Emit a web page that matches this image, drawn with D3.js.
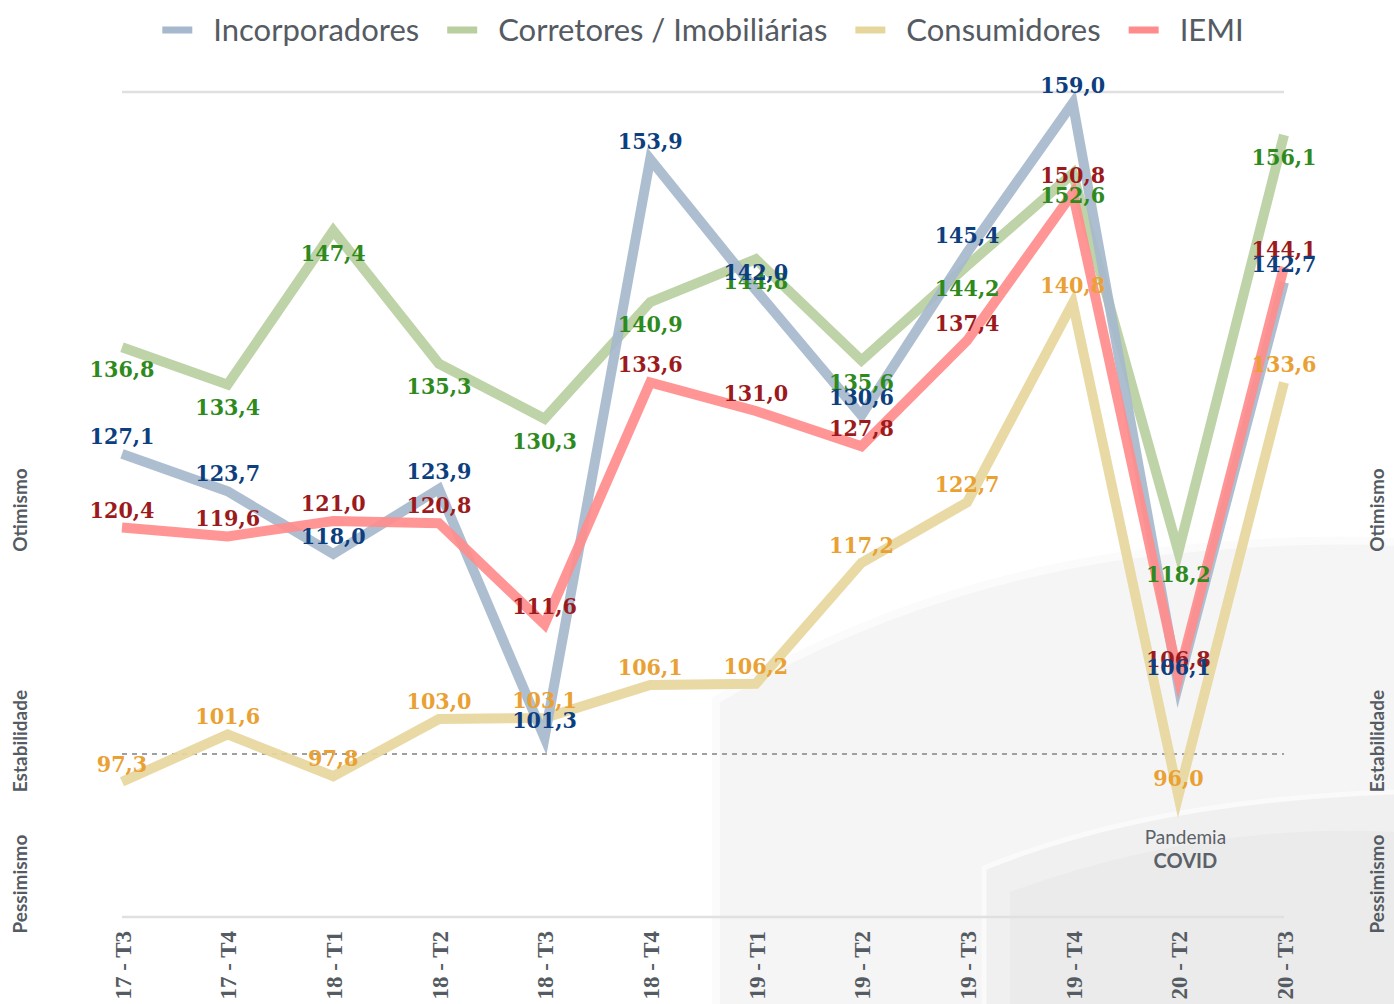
<!DOCTYPE html>
<html>
<head>
<meta charset="utf-8">
<script src="https://cdn.jsdelivr.net/npm/d3@7"></script>
<style>
  body { margin: 0; background: #fff; }
  svg { display: block; }
</style>
</head>
<body>
<script>
// quarters on the x axis
var categories = ["17 - T3", "17 - T4", "18 - T1", "18 - T2", "18 - T3", "18 - T4",
                  "19 - T1", "19 - T2", "19 - T3", "19 - T4", "20 - T2", "20 - T3"];

var incorporadores = [127.1, 123.7, 118.0, 123.9, 101.3, 153.9, 142.0, 130.6, 145.4, 159.0, 106.1, 142.7];
var corretores     = [136.8, 133.4, 147.4, 135.3, 130.3, 140.9, 144.8, 135.6, 144.2, 152.6, 118.2, 156.1];
var consumidores   = [97.3, 101.6, 97.8, 103.0, 103.1, 106.1, 106.2, 117.2, 122.7, 140.8, 96.0, 133.6];
var iemi           = [120.4, 119.6, 121.0, 120.8, 111.6, 133.6, 131.0, 127.8, 137.4, 150.8, 106.8, 144.1];

var seriesNames = ["Incorporadores", "Corretores / Imobiliárias", "Consumidores", "IEMI"];
var zoneLabels = ["Otimismo", "Estabilidade", "Pessimismo"];
var zoneValues = [122, 101, 88];   // middle of each zone on the index scale
var neutral = 100;

var width = 1394, height = 1004;

var series = [
    {name: seriesNames[0], values: incorporadores, line: "#a6b8cd", text: "#0d3f7f", pos: "above"},
    {name: seriesNames[1], values: corretores,     line: "#b9cf9f", text: "#2e8a1c", pos: "below"},
    {name: seriesNames[2], values: consumidores,   line: "#e7d69c", text: "#e9a133", pos: "above"},
    {name: seriesNames[3], values: iemi,           line: "#ff8c8c", text: "#9c1a1c", pos: "above"}
];

var svg = d3.select("body").append("svg")
    .attr("width", width)
    .attr("height", height);

// decorative background in the lower right
var bg = svg.append("g").attr("class", "bg");
bg.append("path")
    .attr("d", "M716,1004 L716,700 Q900,590 1120,556 Q1280,536 1394,542 L1394,1004 Z")
    .attr("fill", "#f5f5f5");
bg.append("path")
    .attr("d", "M716,1004 L716,700 Q900,590 1120,556 Q1280,536 1394,542")
    .attr("fill", "none").attr("stroke", "#fbfbfb").attr("stroke-width", 8);
bg.append("path")
    .attr("d", "M984,1004 L984,868 Q1150,800 1394,792 L1394,1004 Z")
    .attr("fill", "#f0f0f0");
bg.append("path")
    .attr("d", "M1010,1004 L1010,892 Q1200,822 1394,832 L1394,1004 Z")
    .attr("fill", "#ebebeb");
bg.append("path")
    .attr("d", "M984,1004 L984,868 Q1150,800 1394,792")
    .attr("fill", "none").attr("stroke", "#fafafa").attr("stroke-width", 5);

var x = d3.scalePoint()
    .domain(categories)
    .range([122, 1284]);

var y = d3.scaleLinear()
    .domain([85, 160])
    .range([917, 92]);

// grid lines
var grid = svg.append("g");
grid.selectAll("line.edge")
    .data(y.domain())
    .join("line")
        .attr("class", "edge")
        .attr("x1", x.range()[0])
        .attr("x2", x.range()[1])
        .attr("y1", d => y(d))
        .attr("y2", d => y(d))
        .attr("stroke", "#e0e0e0")
        .attr("stroke-width", 2.5);

grid.append("line")
    .attr("x1", x.range()[0])
    .attr("x2", x.range()[1])
    .attr("y1", y(neutral) + 2)
    .attr("y2", y(neutral) + 2)
    .attr("stroke", "#a0a0a0")
    .attr("stroke-width", 2)
    .attr("stroke-dasharray", "5,5");

// x axis
var xAxis = svg.append("g")
    .attr("transform", "translate(0," + y(85) + ")")
    .call(d3.axisBottom(x).tickSize(0));
xAxis.select(".domain").remove();
xAxis.selectAll("text")
    .attr("transform", "rotate(-90)")
    .attr("text-anchor", "end")
    .attr("x", -14)
    .attr("y", 0)
    .attr("dy", "0.36em")
    .attr("fill", "#555b62")
    .style("font-family", "'Liberation Serif', serif")
    .style("font-weight", "bold")
    .style("font-size", "23px");

// lines
var line = d3.line()
    .x((d, i) => x(categories[i]))
    .y(d => y(d));

var drawOrder = [2, 1, 0, 3];
svg.append("g").selectAll("path")
    .data(drawOrder.map(i => series[i]))
    .join("path")
        .attr("d", s => line(s.values))
        .attr("fill", "none")
        .attr("stroke", s => s.line)
        .attr("stroke-width", 10)
        .attr("stroke-linejoin", "miter")
        .attr("stroke-miterlimit", 10)
        .attr("opacity", 0.92);

// value labels
var fmt = v => d3.format(".1f")(v).replace(".", ",");
var labelOrder = [3, 2, 1, 0];
labelOrder.forEach(i => {
    var s = series[i];
    svg.append("g").selectAll("text")
        .data(s.values)
        .join("text")
            .attr("x", (d, j) => x(categories[j]))
            .attr("y", d => y(d) + (s.pos == "above" ? -10 : 30))
            .attr("text-anchor", "middle")
            .attr("fill", s.text)
            .style("font-family", "'DejaVu Serif Condensed', 'DejaVu Serif', serif")
            .style("font-stretch", "condensed")
            .style("font-weight", "bold")
            .style("font-size", "23px")
            .text(d => fmt(d));
});

// zone labels on both sides
[20, 1377].forEach(px => {
    svg.append("g").selectAll("text")
        .data(zoneLabels)
        .join("text")
            .attr("transform", (d, i) => "translate(" + px + "," + y(zoneValues[i]) + ") rotate(-90)")
            .attr("text-anchor", "middle")
            .attr("dy", "0.36em")
            .attr("fill", "#555b62")
            .style("font-family", "Lato, sans-serif")
            .style("font-weight", "bold")
            .style("font-size", "19px")
            .text(d => d);
});

// covid note
var note = svg.append("text")
    .attr("text-anchor", "middle")
    .attr("fill", "#5b6168")
    .style("font-family", "Lato, sans-serif");
note.append("tspan").attr("x", x("20 - T2") + 7).attr("y", 844)
    .style("font-size", "19px").text("Pandemia");
note.append("tspan").attr("x", x("20 - T2") + 7).attr("y", 868)
    .style("font-size", "20px").style("font-weight", "bold").text("COVID");

// legend
var legend = svg.append("g");
var items = legend.selectAll("g")
    .data(series)
    .join("g");
items.append("line")
    .attr("x1", 0).attr("x2", 30)
    .attr("y1", 0).attr("y2", 0)
    .attr("stroke", s => s.line)
    .attr("stroke-width", 7);
items.append("text")
    .attr("x", 51)
    .attr("dy", "0.35em")
    .attr("fill", "#555b62")
    .style("font-family", "Lato, sans-serif")
    .style("font-size", "31px")
    .text(s => s.name);

var offset = 0;
var positions = [];
items.each(function() {
    var w = d3.select(this).select("text").node().getComputedTextLength();
    positions.push(offset);
    offset += 51 + w + 28;
});
var total = offset - 28;
var start = (x.range()[0] + x.range()[1]) / 2 - total / 2;
items.attr("transform", (d, i) => "translate(" + (start + positions[i]) + ",30)");
</script>
</body>
</html>
